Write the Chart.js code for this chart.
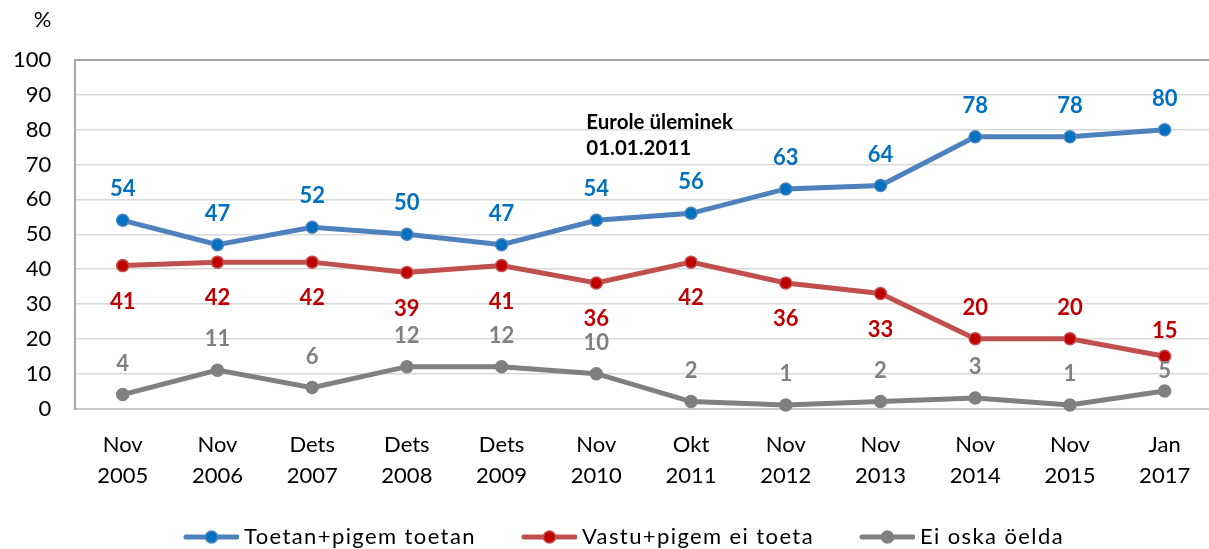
<!DOCTYPE html>
<html>
<head>
<meta charset="utf-8">
<script src="https://cdn.jsdelivr.net/npm/chart.js@4.4.0/dist/chart.umd.min.js"></script>
<style>
  html, body { margin: 0; padding: 0; background: #ffffff; overflow: hidden; }
  #wrap { position: relative; width: 1212px; height: 558px; }
  #c { display: block; }
</style>
</head>
<body>
<div id="wrap"><canvas id="c" width="1212" height="558"></canvas></div>
<script>
// ---- data ----
const categories = [
  ['Nov', '2005'], ['Nov', '2006'], ['Dets', '2007'], ['Dets', '2008'],
  ['Dets', '2009'], ['Nov', '2010'], ['Okt', '2011'], ['Nov', '2012'],
  ['Nov', '2013'], ['Nov', '2014'], ['Nov', '2015'], ['Jan', '2017']
];
const seriesNames = ['Toetan+pigem toetan', 'Vastu+pigem ei toeta', 'Ei oska öelda'];
const supportValues = [54, 47, 52, 50, 47, 54, 56, 63, 64, 78, 78, 80];
const againstValues = [41, 42, 42, 39, 41, 36, 42, 36, 33, 20, 20, 15];
const dontKnowValues = [4, 11, 6, 12, 12, 10, 2, 1, 2, 3, 1, 5];
const yTicks = [0, 10, 20, 30, 40, 50, 60, 70, 80, 90, 100];
const annotationLines = ['Eurole üleminek', '01.01.2011'];
const unitLabel = '%';

// ---- styles ----
const FONT = 'Lato, "Open Sans", "Liberation Sans", sans-serif';
const lineColors = ['#4f81bd', '#c0504d', '#808080'];
const pointColors = ['#0070c0', '#c00000', '#7f7f7f'];
const labelColors = ['#0070c0', '#c00000', '#808080'];
const labelPlacement = [
  supportValues.map(() => 'above'),
  againstValues.map((v, i) => i >= 9 ? (i === 11 ? 'aboveNear' : 'above') : 'below'),
  dontKnowValues.map((v, i) => i === 11 ? 'aboveNear2' : 'above')
];
const placementShift = { above: -31, below: 36, aboveNear: -25, aboveNear2: -20 };

function makeLegendIcon(lineColor, pointColor) {
  const c = document.createElement('canvas');
  c.width = 97; c.height = 16;
  const g = c.getContext('2d');
  g.strokeStyle = lineColor;
  g.lineWidth = 5;
  g.lineCap = 'round';
  g.beginPath();
  g.moveTo(44, 8); g.lineTo(95, 8);
  g.stroke();
  g.fillStyle = pointColor;
  g.strokeStyle = lineColor;
  g.lineWidth = 1.5;
  g.beginPath();
  g.arc(69.5, 8, 6, 0, Math.PI * 2);
  g.fill();
  g.stroke();
  return c;
}
const legendIcons = lineColors.map((lc, i) => makeLegendIcon(lc, pointColors[i]));

const valueLabelPlugin = {
  id: 'valueLabels',
  afterDatasetsDraw(chart) {
    const ctx = chart.ctx;
    ctx.save();
    ctx.font = 'bold 22px ' + FONT;
    ctx.textAlign = 'center';
    ctx.textBaseline = 'middle';
    chart.data.datasets.forEach((ds, di) => {
      const meta = chart.getDatasetMeta(di);
      ctx.fillStyle = labelColors[di];
      meta.data.forEach((pt, i) => {
        ctx.fillText(String(ds.data[i]), pt.x, pt.y + placementShift[labelPlacement[di][i]]);
      });
    });
    ctx.restore();
  }
};

const extrasPlugin = {
  id: 'extras',
  afterInit(chart) {
    const lg = chart.legend;
    if (lg && !lg._wrapped) {
      const origFit = lg.fit.bind(lg);
      const origDraw = lg.draw.bind(lg);
      lg.fit = function () {
        const ctx = chart.ctx; const prev = ctx.letterSpacing;
        ctx.letterSpacing = '1.4px'; origFit(); ctx.letterSpacing = prev || '0px';
      };
      lg.draw = function (a) {
        const ctx = chart.ctx; const prev = ctx.letterSpacing;
        ctx.letterSpacing = '1.4px'; origDraw(a); ctx.letterSpacing = prev || '0px';
      };
      lg._wrapped = true;
    }
  },
  afterDraw(chart) {
    const ctx = chart.ctx;
    const xs = chart.scales.x, ys = chart.scales.y;
    ctx.save();
    ctx.font = '22px ' + FONT;
    ctx.fillStyle = '#000';
    ctx.textAlign = 'right';
    ctx.textBaseline = 'middle';
    ctx.fillText(unitLabel, chart.chartArea.left - 24, 20);
    ctx.font = 'bold 20.5px ' + FONT;
    ctx.textAlign = 'left';
    ctx.textBaseline = 'alphabetic';
    const ax = xs.getPixelForValue(5) - 10;
    const ay = ys.getPixelForValue(80) - 1;
    ctx.fillText(annotationLines[0], ax, ay);
    ctx.fillText(annotationLines[1], ax, ay + 26);
    ctx.restore();
  }
};

function ds(label, data, i) {
  return {
    label, data,
    borderColor: lineColors[i],
    backgroundColor: pointColors[i],
    borderWidth: 5,
    pointRadius: 6,
    pointHoverRadius: 6,
    pointBackgroundColor: pointColors[i],
    pointBorderColor: lineColors[i],
    pointBorderWidth: 1.5,
    tension: 0,
    clip: false
  };
}

new Chart(document.getElementById('c'), {
  type: 'line',
  data: {
    labels: categories,
    datasets: [
      ds(seriesNames[0], supportValues, 0),
      ds(seriesNames[1], againstValues, 1),
      ds(seriesNames[2], dontKnowValues, 2)
    ]
  },
  options: {
    responsive: false,
    maintainAspectRatio: false,
    animation: false,
    devicePixelRatio: 1,
    layout: { autoPadding: false, padding: { top: 60, left: 0, right: 0, bottom: 0 } },
    scales: {
      x: {
        offset: true,
        grid: { display: false, drawTicks: false },
        border: { display: true, color: '#c8c8c8', width: 2 },
        ticks: {
          color: '#000',
          font: { family: FONT, size: 22, lineHeight: 1.4 },
          padding: 21,
          maxRotation: 0,
          autoSkip: false
        },
        afterFit(s) { s.height = 107.5; }
      },
      y: {
        min: 0, max: 100,
        afterBuildTicks(s) { s.ticks = yTicks.map(v => ({ value: v })); },
        grid: {
          drawTicks: false,
          color: c => (c.tick && c.tick.value === 100) ? '#a6a6a6' : (c.tick && c.tick.value === 0 ? '#c8c8c8' : '#d9d9d9'),
          lineWidth: c => (c.tick && (c.tick.value === 100 || c.tick.value === 0)) ? 2 : 1.5
        },
        border: { display: true, color: '#a6a6a6', width: 2 },
        ticks: {
          color: '#000',
          font: { family: FONT, size: 22 },
          padding: 24
        },
        afterFit(s) { s.width = 75.35; }
      }
    },
    plugins: {
      legend: {
        position: 'bottom',
        labels: {
          usePointStyle: true,
          pointStyleWidth: 85,
          boxHeight: 22,
          padding: 10,
          color: '#000',
          font: { family: FONT, size: 22 },
          generateLabels(chart) {
            const items = Chart.defaults.plugins.legend.labels.generateLabels(chart);
            items.forEach((it, i) => { it.pointStyle = legendIcons[i]; });
            return items;
          }
        }
      },
      tooltip: { enabled: false }
    }
  },
  plugins: [valueLabelPlugin, extrasPlugin]
});
</script>
</body>
</html>
